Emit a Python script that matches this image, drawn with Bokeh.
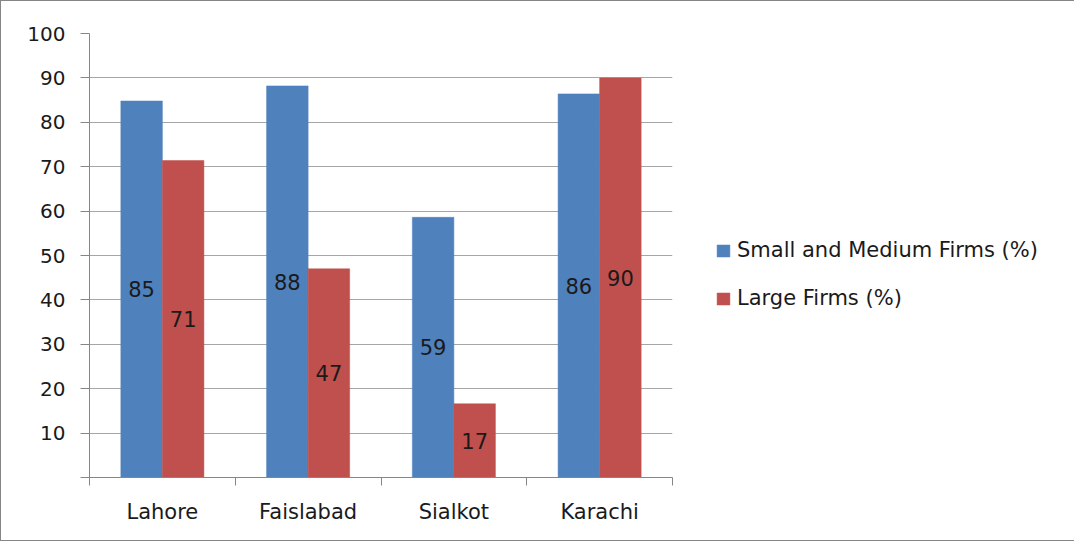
from bokeh.plotting import figure
from bokeh.models import FixedTicker, Legend, LegendItem, Range1d
from bokeh.core.properties import value
from bokeh.embed import file_html
from bokeh.resources import INLINE

# ---- data ----
cities = ["Lahore", "Faislabad", "Sialkot", "Karachi"]
sme_values = [84.8, 88.2, 58.6, 86.4]
large_values = [71.4, 47.0, 16.6, 90.0]
y_tick_values = [0, 10, 20, 30, 40, 50, 60, 70, 80, 90, 100]
series_names = ["Small and Medium Firms (%)", "Large Firms (%)"]

# ---- style ----
FONT = "DejaVu Sans"
TEXT = "#1a1a1a"
AXIS = "#868686"
GRID = "#a6a6a6"
BLUE = "#4F81BD"
RED = "#C0504D"
BAR_W = 0.285

n = len(cities)
p = figure(frame_width=583, frame_height=444,
           x_range=Range1d(0, n), y_range=Range1d(0, 100),
           output_backend="svg", toolbar_location=None,
           min_border_left=88, min_border_right=0,
           min_border_top=32, min_border_bottom=63)
p.outline_line_color = None
p.background_fill_color = "white"
p.border_fill_color = "white"

xs_sme = [i + 0.5 - BAR_W / 2 for i in range(n)]
xs_large = [i + 0.5 + BAR_W / 2 for i in range(n)]

r1 = p.vbar(x=xs_sme, top=sme_values, width=BAR_W, bottom=0,
            fill_color=BLUE, line_color=BLUE, line_width=0.5)
r2 = p.vbar(x=xs_large, top=large_values, width=BAR_W, bottom=0,
            fill_color=RED, line_color=RED, line_width=0.5)

p.text(x=xs_sme, y=[v / 2 for v in sme_values], text=[f"{v:.0f}" for v in sme_values],
       text_align="center", text_baseline="middle", text_font=value(FONT),
       text_font_size="21px", text_color=TEXT)
p.text(x=xs_large, y=[v / 2 for v in large_values], text=[f"{v:.0f}" for v in large_values],
       text_align="center", text_baseline="middle", text_font=value(FONT),
       text_font_size="21px", text_color=TEXT)

# x axis: labels between boundary ticks
xa = p.xaxis[0]
centers = [i + 0.5 for i in range(n)]
xa.ticker = FixedTicker(ticks=centers, minor_ticks=list(range(n + 1)))
xa.major_label_overrides = {c: name for c, name in zip(centers, cities)}
xa.major_tick_out = 0
xa.major_tick_in = 0
xa.minor_tick_out = 8
xa.minor_tick_in = 0
xa.minor_tick_line_color = AXIS
xa.axis_line_color = AXIS
xa.major_label_text_font = FONT
xa.major_label_text_font_size = "21px"
xa.major_label_text_color = TEXT
xa.major_label_standoff = 14

ya = p.yaxis[0]
ya.ticker = FixedTicker(ticks=y_tick_values, minor_ticks=[])
ya.major_label_overrides = {0: ""}
ya.major_tick_out = 9
ya.major_tick_in = 0
ya.major_tick_line_color = AXIS
ya.minor_tick_line_color = None
ya.axis_line_color = AXIS
ya.major_label_text_font = FONT
ya.major_label_text_font_size = "20px"
ya.major_label_text_color = TEXT
ya.major_label_standoff = 15

p.xgrid.grid_line_color = None
p.ygrid.ticker = FixedTicker(ticks=y_tick_values[1:])
p.ygrid.grid_line_color = GRID
p.ygrid.grid_line_width = 1

legend = Legend(items=[LegendItem(label=series_names[0], renderers=[r1]),
                       LegendItem(label=series_names[1], renderers=[r2])],
                location=(43, 167), orientation="vertical",
                border_line_color=None, background_fill_alpha=0,
                padding=0, margin=0, spacing=24,
                glyph_width=16, glyph_height=15, label_height=24,
                label_standoff=6, label_text_font=FONT,
                label_text_font_size="21px", label_text_color=TEXT)
p.add_layout(legend, "right")

p.styles = {"border": "1.5px solid #868686"}

open("out.html", "w").write(file_html(p, INLINE))
